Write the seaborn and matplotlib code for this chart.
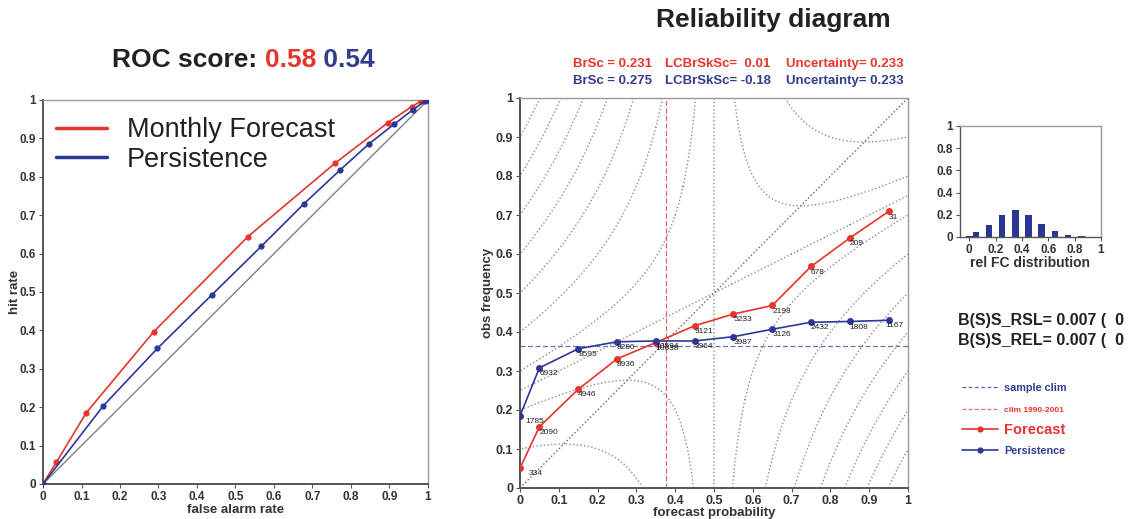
import numpy as np
import pandas as pd
import matplotlib
matplotlib.use("Agg")
import matplotlib.pyplot as plt
import seaborn as sns
from matplotlib.lines import Line2D

# ---------------- data ----------------
roc_fc_far = [0, 0.035, 0.112, 0.288, 0.532, 0.758, 0.896, 0.958, 0.982, 1.0]
roc_fc_hr = [0, 0.057, 0.185, 0.397, 0.644, 0.835, 0.941, 0.983, 0.997, 1.0]
roc_pe_far = [0, 0.157, 0.297, 0.439, 0.567, 0.678, 0.772, 0.847, 0.912, 0.960, 0.993, 1.0]
roc_pe_hr = [0, 0.204, 0.353, 0.493, 0.619, 0.730, 0.818, 0.886, 0.937, 0.974, 0.998, 1.0]
roc_score_fc = "0.58"
roc_score_pe = "0.54"

rel_prob = [0, 0.05, 0.15, 0.25, 0.35, 0.45, 0.55, 0.65, 0.75, 0.85, 0.95]
rel_fc_obs = [0.051, 0.157, 0.253, 0.331, 0.373, 0.416, 0.446, 0.468, 0.568, 0.641, 0.709]
rel_pe_obs = [0.185, 0.308, 0.357, 0.375, 0.377, 0.377, 0.388, 0.407, 0.425, 0.427, 0.430]
rel_fc_counts = ["334", "2090", "4946", "8936", "10638", "9121", "5233", "2198", "678", "209", "31"]
rel_pe_counts = ["1785", "6932", "8595", "8286", "10594", "3964", "3987", "3126", "2432", "1808", "1167"]
fc_dist = [0.010, 0.048, 0.110, 0.197, 0.245, 0.200, 0.113, 0.050, 0.015, 0.006, 0.002]
sample_clim = 0.364
clim_1990_2001 = 0.376
stats_fc = ["BrSc = 0.231", "LCBrSkSc=  0.01", "Uncertainty= 0.233"]
stats_pe = ["BrSc = 0.275", "LCBrSkSc= -0.18", "Uncertainty= 0.233"]
bss_lines = ["B(S)S_RSL= 0.007 (  0", "B(S)S_REL= 0.007 (  0"]
skill_levels = [-0.75, -0.65, -0.55, -0.45, -0.35, -0.25, -0.15, -0.05, 0.0, 0.05, 0.15]

ticks = [0, 0.1, 0.2, 0.3, 0.4, 0.5, 0.6, 0.7, 0.8, 0.9, 1.0]
tick_labels = ["0", "0.1", "0.2", "0.3", "0.4", "0.5", "0.6", "0.7", "0.8", "0.9", "1"]
hist_ticks = [0, 0.2, 0.4, 0.6, 0.8, 1.0]
hist_labels = ["0", "0.2", "0.4", "0.6", "0.8", "1"]

# ---------------- style ----------------
sns.set_theme(style="white")
plt.rcParams["font.family"] = ["Liberation Sans", "DejaVu Sans"]

RED = "#e5352c"
BLUE = "#2c3897"
TXTBLUE = "#333d8e"
DARK = "#333333"

W, H = 1130, 519
fig = plt.figure(figsize=(W / 100, H / 100), dpi=100)


def fx(px):
    return px / W


def fy(py):
    return 1 - py / H


def style_axes(ax, tsize):
    for s in ["left", "bottom"]:
        ax.spines[s].set_color("#555555")
        ax.spines[s].set_linewidth(1.4)
    for s in ["top", "right"]:
        ax.spines[s].set_color("#9a9a9a")
        ax.spines[s].set_linewidth(1.0)
    ax.tick_params(axis="both", which="major", direction="out", length=3, width=0.8,
                   color="#555555", labelsize=tsize, labelcolor=DARK, pad=2,
                   bottom=True, left=True)
    for lab in ax.get_xticklabels() + ax.get_yticklabels():
        lab.set_fontweight("bold")


# ---------------- ROC ----------------
ax1 = fig.add_axes([fx(43), fy(484), fx(428 - 43), (484 - 100) / H])
ax1.axline((0, 0), slope=1, color="#808080", lw=1.0, zorder=1)
df_fc = pd.DataFrame({"far": roc_fc_far, "hr": roc_fc_hr})
df_pe = pd.DataFrame({"far": roc_pe_far, "hr": roc_pe_hr})
sns.lineplot(data=df_fc, x="far", y="hr", ax=ax1, sort=False, estimator=None, color=RED,
             lw=1.2, marker="o", markersize=4.5, markeredgewidth=0, label="Monthly Forecast", zorder=3)
sns.lineplot(data=df_pe, x="far", y="hr", ax=ax1, sort=False, estimator=None, color=BLUE,
             lw=1.2, marker="o", markersize=4.5, markeredgewidth=0, label="Persistence", zorder=4)
ax1.set_xlim(0, 1)
ax1.set_ylim(0, 1)
ax1.set_xticks(ticks)
ax1.set_xticklabels(tick_labels)
ax1.set_yticks(ticks)
ax1.set_yticklabels(tick_labels)
ax1.set_xlabel("false alarm rate", fontsize=9.5, fontweight="bold", color=DARK, labelpad=1)
ax1.set_ylabel("hit rate", fontsize=9.5, fontweight="bold", color=DARK, labelpad=-1)
style_axes(ax1, 8.5)
leg = ax1.legend(loc="upper left", bbox_to_anchor=(0.035, 0.955), frameon=False, fontsize=19.5,
                 handlelength=1.85, handletextpad=0.75, labelspacing=0.12, borderpad=0,
                 borderaxespad=0)
for t in leg.get_texts():
    t.set_color("#222222")
for l in leg.get_lines():
    l.set_linewidth(2.5)
    l.set_marker("")

# multi-coloured ROC title, pieces laid out one after another
renderer = fig.canvas.get_renderer()
xpos = 112
for piece, col in [("ROC score: ", "#222222"), (roc_score_fc, RED), (" " + roc_score_pe, TXTBLUE)]:
    t = fig.text(fx(xpos), fy(60), piece, fontsize=19, fontweight="bold", color=col,
                 ha="left", va="center")
    bb = t.get_window_extent(renderer=renderer)
    xpos = xpos + bb.width

# ---------------- Reliability ----------------
ax2 = fig.add_axes([fx(520), fy(488), fx(908 - 520), (488 - 98) / H])
pg, og = np.meshgrid(np.linspace(0, 1, 401), np.linspace(0, 1, 401))
skill = (pg - 0.5) * (2 * og - pg - 0.5)
ax2.contour(pg, og, skill, levels=skill_levels, colors="#8c8c8c", linestyles=":",
            linewidths=1.0, zorder=1)
ax2.axline((0, 0), slope=1, color="#666666", lw=1.0, ls=":", zorder=1)
ax2.axhline(sample_clim, color="#6a74b0", lw=0.9, ls=(0, (4, 2)), zorder=2)
ax2.axvline(clim_1990_2001, color="#e0605a", lw=0.9, ls=(0, (4, 2)), zorder=2)

df_rfc = pd.DataFrame({"p": rel_prob, "o": rel_fc_obs})
df_rpe = pd.DataFrame({"p": rel_prob, "o": rel_pe_obs})
sns.lineplot(data=df_rfc, x="p", y="o", ax=ax2, sort=False, estimator=None, color=RED,
             lw=1.2, marker="o", markersize=5, markeredgewidth=0, zorder=4, legend=False)
sns.lineplot(data=df_rpe, x="p", y="o", ax=ax2, sort=False, estimator=None, color=BLUE,
             lw=1.2, marker="o", markersize=5, markeredgewidth=0, zorder=5, legend=False)
for i, (p, o, c) in enumerate(zip(rel_prob, rel_fc_obs, rel_fc_counts)):
    dx = 6 if i == 0 else 0
    ax2.annotate(c, (p, o), xytext=(dx, -1.5), textcoords="offset points", ha="left",
                 va="top", fontsize=6, color="#222222", zorder=6)
for i, (p, o, c) in enumerate(zip(rel_prob, rel_pe_obs, rel_pe_counts)):
    dx = 4 if i == 0 else (-2 if i == len(rel_prob) - 1 else 0)
    ax2.annotate(c, (p, o), xytext=(dx, -1.5), textcoords="offset points", ha="left",
                 va="top", fontsize=6, color="#222222", zorder=6)

ax2.set_xlim(0, 1)
ax2.set_ylim(0, 1)
ax2.set_xticks(ticks)
ax2.set_xticklabels(tick_labels)
ax2.set_yticks(ticks)
ax2.set_yticklabels(tick_labels)
ax2.set_xlabel("forecast probability", fontsize=9.5, fontweight="bold", color=DARK, labelpad=0)
ax2.set_ylabel("obs frequency", fontsize=9.5, fontweight="bold", color=DARK, labelpad=1)
style_axes(ax2, 9)

fig.text(fx(773), fy(20), "Reliability diagram", fontsize=19, fontweight="bold",
         color="#222222", ha="center", va="center")
for xs, s1, s2 in zip([572.7, 665.3, 785.7], stats_fc, stats_pe):
    fig.text(fx(xs), fy(64), s1, fontsize=9.5, fontweight="bold", color=RED,
             ha="left", va="center")
    fig.text(fx(xs), fy(81), s2, fontsize=9.5, fontweight="bold", color=TXTBLUE,
             ha="left", va="center")

# ---------------- inset histogram ----------------
ax3 = fig.add_axes([fx(960), fy(237), fx(1101 - 960), (237 - 126) / H])
ax3.bar(rel_prob, fc_dist, width=0.05, color="#2b3592", edgecolor="none")
ax3.set_xlim(-0.07, 1.0)
ax3.set_ylim(0, 1)
ax3.set_xticks(hist_ticks)
ax3.set_xticklabels(hist_labels)
ax3.set_yticks(hist_ticks)
ax3.set_yticklabels(hist_labels)
ax3.set_xlabel("rel FC distribution", fontsize=10, fontweight="bold", color=DARK, labelpad=0)
style_axes(ax3, 8.5)
for s in ["left", "bottom"]:
    ax3.spines[s].set_linewidth(1.0)

for yy, s in zip([320, 340], bss_lines):
    fig.text(fx(958), fy(yy), s, fontsize=11.5, fontweight="bold", color="#222222",
             ha="left", va="center")

# ---------------- right legend ----------------
legend_items = [
    (Line2D([], [], color="#5a64aa", lw=0.9, ls=(0, (3, 2))), "sample clim", TXTBLUE, 7.8, 388),
    (Line2D([], [], color="#e0706a", lw=0.9, ls=(0, (3, 2))), "clim 1990-2001", RED, 6.0, 410),
    (Line2D([], [], color=RED, lw=1.2, marker="o", markersize=4.5, markeredgewidth=0),
     "Forecast", RED, 10.5, 430),
    (Line2D([], [], color=BLUE, lw=1.2, marker="o", markersize=4.5, markeredgewidth=0),
     "Persistence", TXTBLUE, 7.8, 451),
]
for h, lab, col, fs, yy in legend_items:
    lg = fig.legend(handles=[h], labels=[lab], loc="center left",
                    bbox_to_anchor=(fx(962), fy(yy)), frameon=False, fontsize=fs,
                    handlelength=36 / (fs * 100 / 72), handletextpad=6 / (fs * 100 / 72),
                    borderpad=0, borderaxespad=0)
    for t in lg.get_texts():
        t.set_color(col)
        t.set_fontweight("bold")

fig.savefig("out.png", dpi=100)
